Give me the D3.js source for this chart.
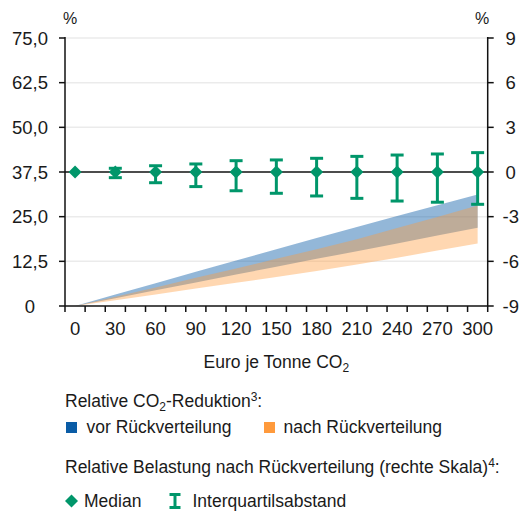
<!DOCTYPE html>
<html>
<head>
<meta charset="utf-8">
<script src="https://cdn.jsdelivr.net/npm/d3@7"></script>
<style>
  body { margin: 0; background: #fff; }
  text { font-family: "Liberation Sans", Arial, sans-serif; fill: #1a1a1a; }
</style>
</head>
<body>
<div id="chart"></div>
<script>
// CO2 price categories (x axis, 15er steps, labels every 30)
var categories = d3.range(0, 301, 15);
var prices = [0, 30, 60, 90, 120, 150, 180, 210, 240, 270, 300];

// relative CO2 reduction, left scale (%)
var vorLow   = [0, 2.2, 4.4, 6.6, 8.8, 11.0, 13.2, 15.3, 17.5, 19.7, 21.9];
var vorHigh  = [0, 3.2, 6.4, 9.6, 12.7, 15.9, 19.0, 22.1, 25.2, 28.2, 31.2];
var nachLow  = [0, 1.6, 3.2, 4.9, 6.5, 8.1, 9.8, 11.6, 13.5, 15.5, 17.5];
var nachHigh = [0, 2.6, 5.2, 7.9, 10.5, 13.2, 15.9, 18.7, 21.8, 24.9, 28.1];

// relative burden after redistribution, right scale (%)
var median = [0, 0, 0, 0, 0, 0, 0, 0, 0, 0, 0];
var q1 = [0, -0.38, -0.72, -0.98, -1.26, -1.43, -1.61, -1.77, -1.95, -2.03, -2.17];
var q3 = [0, 0.25, 0.42, 0.54, 0.76, 0.81, 0.92, 1.05, 1.14, 1.21, 1.30];

var leftTicks = [0, 12.5, 25, 37.5, 50, 62.5, 75];
var rightTicks = [-9, -6, -3, 0, 3, 6, 9];

var blue = "#0a5ca6", orange = "#ff9a3c", green = "#00966a";

var width = 523, height = 511;
var margin = { top: 38, right: 35.3, bottom: 205, left: 65 };
var x0 = margin.left, x1 = width - margin.right;
var yTop = margin.top, yBot = height - margin.bottom;

var svg = d3.select("#chart").append("svg")
    .attr("width", width)
    .attr("height", height);

var x = d3.scaleBand().domain(categories).range([x0, x1]).padding(0);
var cx = function (v) { return x(v) + x.bandwidth() / 2; };
var yL = d3.scaleLinear().domain([0, 75]).range([yBot, yTop]);
var yR = d3.scaleLinear().domain([-9, 9]).range([yBot, yTop]);

var locale = d3.formatLocale({ decimal: ",", thousands: ".", grouping: [3], currency: ["", "€"] });
var fmt1 = locale.format(".1f");

// gridlines
svg.append("g").selectAll("line")
    .data(leftTicks.filter(function (d) { return d !== 0 && d !== 37.5; }))
    .enter().append("line")
    .attr("x1", x0).attr("x2", x1)
    .attr("y1", function (d) { return yL(d); })
    .attr("y2", function (d) { return yL(d); })
    .attr("stroke", "#ebebeb")
    .attr("stroke-width", 1.5);

// bands
var rows = prices.map(function (p, i) {
    return { p: p, vl: vorLow[i], vh: vorHigh[i], nl: nachLow[i], nh: nachHigh[i],
             m: median[i], lo: q1[i], hi: q3[i] };
});

var areaVor = d3.area()
    .x(function (d) { return cx(d.p); })
    .y0(function (d) { return yL(d.vl); })
    .y1(function (d) { return yL(d.vh); });
var areaNach = d3.area()
    .x(function (d) { return cx(d.p); })
    .y0(function (d) { return yL(d.nl); })
    .y1(function (d) { return yL(d.nh); });

svg.append("path").datum(rows).attr("d", areaVor)
    .attr("fill", blue).attr("fill-opacity", 0.44);
svg.append("path").datum(rows).attr("d", areaNach)
    .attr("fill", orange).attr("fill-opacity", 0.4);

// zero line of right scale
svg.append("line")
    .attr("x1", x0).attr("x2", x1)
    .attr("y1", yR(0)).attr("y2", yR(0))
    .attr("stroke", "#111").attr("stroke-width", 1.5);

// left axis
var gL = svg.append("g").attr("transform", "translate(" + x0 + ",0)");
gL.append("line").attr("y1", yTop - 1).attr("y2", yBot).attr("stroke", "#111").attr("stroke-width", 1.5);
gL.selectAll(".t").data(leftTicks).enter().append("line")
    .attr("x1", -6).attr("x2", 0)
    .attr("y1", function (d) { return yL(d); }).attr("y2", function (d) { return yL(d); })
    .attr("stroke", "#111").attr("stroke-width", 1.5);
gL.selectAll("text").data(leftTicks).enter().append("text")
    .attr("x", -35).attr("y", function (d) { return yL(d); })
    .attr("dy", "0.36em")
    .attr("text-anchor", "middle")
    .style("font-size", "18.5px")
    .text(function (d) { return d === 0 ? "0" : fmt1(d); });

// right axis
var gR = svg.append("g").attr("transform", "translate(" + x1 + ",0)");
gR.append("line").attr("y1", yTop - 1).attr("y2", yBot).attr("stroke", "#111").attr("stroke-width", 1.5);
gR.selectAll(".t").data(rightTicks).enter().append("line")
    .attr("x1", 0).attr("x2", 6)
    .attr("y1", function (d) { return yR(d); }).attr("y2", function (d) { return yR(d); })
    .attr("stroke", "#111").attr("stroke-width", 1.5);
gR.selectAll("text").data(rightTicks).enter().append("text")
    .attr("x", 23).attr("y", function (d) { return yR(d); })
    .attr("dy", "0.36em")
    .attr("text-anchor", "middle")
    .style("font-size", "18.5px")
    .text(function (d) { return d; });

// x axis
var gX = svg.append("g").attr("transform", "translate(0," + yBot + ")");
gX.append("line").attr("x1", x0).attr("x2", x1).attr("stroke", "#111").attr("stroke-width", 1.5);
gX.selectAll(".t").data(categories.concat(["end"])).enter().append("line")
    .attr("x1", function (d) { return d === "end" ? x1 : x(d); })
    .attr("x2", function (d) { return d === "end" ? x1 : x(d); })
    .attr("y1", 0).attr("y2", 6)
    .attr("stroke", "#111").attr("stroke-width", 1.5);
gX.selectAll("text").data(prices).enter().append("text")
    .attr("x", function (d) { return cx(d); })
    .attr("y", 29)
    .attr("text-anchor", "middle")
    .style("font-size", "18.5px")
    .text(function (d) { return d; });

// unit labels
svg.append("text").attr("x", 70).attr("y", 24).attr("text-anchor", "middle")
    .style("font-size", "16px").text("%");
svg.append("text").attr("x", 482).attr("y", 24).attr("text-anchor", "middle")
    .style("font-size", "16px").text("%");

// axis title
var title = svg.append("text").attr("x", (x0 + x1) / 2).attr("y", 368)
    .attr("text-anchor", "middle").style("font-size", "17.5px");
title.append("tspan").text("Euro je Tonne CO");
title.append("tspan").attr("dy", 4).style("font-size", "12px").text("2");

// error bars
var eb = svg.append("g").selectAll("g").data(rows.filter(function (d) { return d.hi !== d.lo; }))
    .enter().append("g")
    .attr("stroke", green).attr("stroke-width", 3);
eb.append("line")
    .attr("x1", function (d) { return cx(d.p); }).attr("x2", function (d) { return cx(d.p); })
    .attr("y1", function (d) { return yR(d.lo); }).attr("y2", function (d) { return yR(d.hi); });
eb.append("line")
    .attr("x1", function (d) { return cx(d.p) - 6.5; }).attr("x2", function (d) { return cx(d.p) + 6.5; })
    .attr("y1", function (d) { return yR(d.lo); }).attr("y2", function (d) { return yR(d.lo); });
eb.append("line")
    .attr("x1", function (d) { return cx(d.p) - 6.5; }).attr("x2", function (d) { return cx(d.p) + 6.5; })
    .attr("y1", function (d) { return yR(d.hi); }).attr("y2", function (d) { return yR(d.hi); });

// medians
var diamond = d3.symbol().type(d3.symbolSquare).size(85);
svg.append("g").selectAll("path").data(rows).enter().append("path")
    .attr("d", diamond)
    .attr("transform", function (d) { return "translate(" + cx(d.p) + "," + yR(d.m) + ") rotate(45)"; })
    .attr("fill", green);

// legend
var lg = svg.append("g").style("font-size", "17.5px");
var t1 = lg.append("text").attr("x", 65).attr("y", 406.5);
t1.append("tspan").text("Relative CO");
t1.append("tspan").attr("dy", 4).style("font-size", "12px").text("2");
t1.append("tspan").attr("dy", -4).text("-Reduktion");
t1.append("tspan").attr("dy", -6).style("font-size", "12px").text("3");
t1.append("tspan").attr("dy", 6).text(":");

lg.append("rect").attr("x", 66).attr("y", 422).attr("width", 11).attr("height", 11).attr("fill", blue);
lg.append("text").attr("x", 86.5).attr("y", 433).text("vor Rückverteilung");
lg.append("rect").attr("x", 264).attr("y", 422).attr("width", 11).attr("height", 11).attr("fill", orange);
lg.append("text").attr("x", 283.5).attr("y", 433).text("nach Rückverteilung");

var t2 = lg.append("text").attr("x", 65).attr("y", 473);
t2.append("tspan").text("Relative Belastung nach Rückverteilung (rechte Skala)");
t2.append("tspan").attr("dy", -6).style("font-size", "12px").text("4");
t2.append("tspan").attr("dy", 6).text(":");

lg.append("path").attr("d", diamond)
    .attr("transform", "translate(71.5,501) rotate(45)")
    .attr("fill", green);
lg.append("text").attr("x", 84).attr("y", 507).text("Median");

var ib = lg.append("g").attr("stroke", green).attr("stroke-width", 3);
ib.append("line").attr("x1", 175).attr("x2", 175).attr("y1", 494).attr("y2", 508);
ib.append("line").attr("x1", 169.5).attr("x2", 180.5).attr("y1", 494.5).attr("y2", 494.5);
ib.append("line").attr("x1", 169.5).attr("x2", 180.5).attr("y1", 507.5).attr("y2", 507.5);
lg.append("text").attr("x", 192.5).attr("y", 507).text("Interquartilsabstand");
</script>
</body>
</html>
